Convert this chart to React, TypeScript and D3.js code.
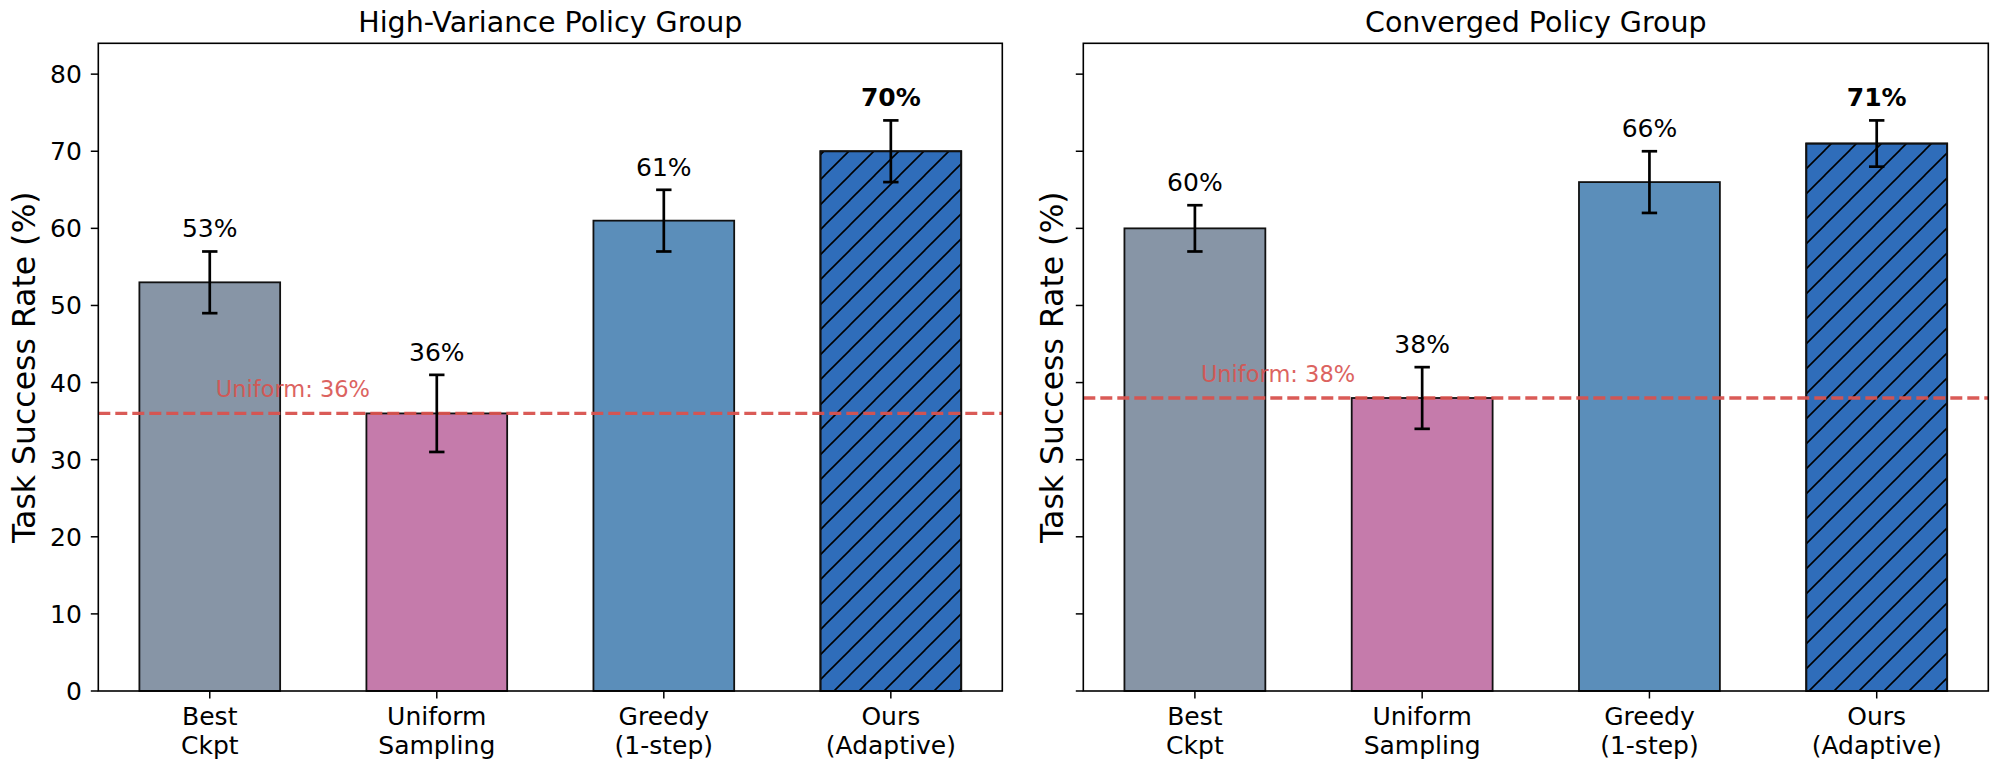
import { scaleLinear } from "d3";

// categories and values
const categories = [
  ["Best", "Ckpt"],
  ["Uniform", "Sampling"],
  ["Greedy", "(1-step)"],
  ["Ours", "(Adaptive)"],
];
const barColors = ["#8795a6", "#c57bab", "#5b8eba", "#2f6dba"];
const yTicks = [0, 10, 20, 30, 40, 50, 60, 70, 80];

const highVarValues = [53, 36, 61, 70];
const highVarErrors = [4, 5, 4, 4];
const convergedValues = [60, 38, 66, 71];
const convergedErrors = [3, 4, 4, 3];

const panelTitles = ["High-Variance Policy Group", "Converged Policy Group"];

const W = 2000;
const H = 770;
const top = 43.3;
const bottom = 691;
const panels = [
  { x0: 98.3, x1: 1002.3, labelOff: 63 },
  { x0: 1083.3, x1: 1988.3, labelOff: 20 },
];
const FONT = "DejaVu Sans, sans-serif";
const RED = "#d9534f";

const y = scaleLinear().domain([0, 84]).range([bottom, top]);

type PanelProps = {
  idx: number;
  values: number[];
  errors: number[];
  title: string;
  showLabels: boolean;
};

const Panel = ({ idx, values, errors, title, showLabels }: PanelProps) => {
  const { x0, x1, labelOff } = panels[idx];
  const x = scaleLinear().domain([-0.491, 3.491]).range([x0, x1]);
  const barW = x(0.62) - x(0);
  const baseline = values[1];
  const last = values.length - 1;

  return (
    <g>
      {/* bars */}
      {values.map((v, i) => (
        <g key={i}>
          <rect
            x={x(i) - barW / 2}
            y={y(v)}
            width={barW}
            height={y(0) - y(v)}
            fill={barColors[i]}
            stroke="#111"
            strokeWidth={1.8}
          />
          {i === last && (
            <rect
              x={x(i) - barW / 2}
              y={y(v)}
              width={barW}
              height={y(0) - y(v)}
              fill="url(#hatch)"
              stroke="#111"
              strokeWidth={1.8}
            />
          )}
        </g>
      ))}
      {/* uniform baseline */}
      <line
        x1={x0}
        x2={x1}
        y1={y(baseline)}
        y2={y(baseline)}
        stroke={RED}
        strokeWidth={3.3}
        strokeDasharray="12 5"
        opacity={0.95}
      />
      <text
        x={x(0) + 6}
        y={y(baseline) - 16}
        fontFamily={FONT}
        fontSize={22.5}
        fill={RED}
        opacity={0.9}
      >
        Uniform: {baseline}%
      </text>
      {/* error bars and value labels */}
      {values.map((v, i) => {
        const cx = x(i);
        const hi = y(v + errors[i]);
        const lo = y(v - errors[i]);
        return (
          <g key={i}>
            <line x1={cx} x2={cx} y1={hi} y2={lo} stroke="#000" strokeWidth={2.7} />
            <line x1={cx - 7.7} x2={cx + 7.7} y1={hi} y2={hi} stroke="#000" strokeWidth={2.7} />
            <line x1={cx - 7.7} x2={cx + 7.7} y1={lo} y2={lo} stroke="#000" strokeWidth={2.7} />
            <text
              x={cx}
              y={hi - 14}
              textAnchor="middle"
              fontFamily={FONT}
              fontSize={25}
              fontWeight={i === last ? "bold" : "normal"}
            >
              {v}%
            </text>
          </g>
        );
      })}
      {/* frame */}
      <rect x={x0} y={top} width={x1 - x0} height={bottom - top} fill="none" stroke="#000" strokeWidth={1.6} />
      {/* y ticks */}
      {yTicks.map((t) => (
        <g key={t}>
          <line x1={x0 - 7.5} x2={x0} y1={y(t)} y2={y(t)} stroke="#000" strokeWidth={1.5} />
          {showLabels && (
            <text
              x={x0 - 16.5}
              y={y(t)}
              dy="0.36em"
              textAnchor="end"
              fontFamily={FONT}
              fontSize={25}
            >
              {t}
            </text>
          )}
        </g>
      ))}
      {/* x ticks */}
      {categories.map((c, i) => (
        <g key={i}>
          <line x1={x(i)} x2={x(i)} y1={bottom} y2={bottom + 7.5} stroke="#000" strokeWidth={1.5} />
          {c.map((line, j) => (
            <text
              key={j}
              x={x(i)}
              y={725 + j * 29}
              textAnchor="middle"
              fontFamily={FONT}
              fontSize={25}
            >
              {line}
            </text>
          ))}
        </g>
      ))}
      <text
        x={(x0 + x1) / 2}
        y={32}
        textAnchor="middle"
        fontFamily={FONT}
        fontSize={28.5}
      >
        {title}
      </text>
      <text
        transform={`translate(${x0 - labelOff}, ${(top + bottom) / 2}) rotate(-90)`}
        textAnchor="middle"
        fontFamily={FONT}
        fontSize={31.5}
      >
        Task Success Rate (%)
      </text>
    </g>
  );
};

const App = () => {
  return (
    <svg
      width={W}
      height={H}
      style={{ position: "absolute", left: 0, top: 0, background: "#fff" }}
    >
      <defs>
        <pattern id="hatch" patternUnits="userSpaceOnUse" width={25} height={25}>
          <line x1={0} y1={25} x2={25} y2={0} stroke="#000" strokeWidth={1.6} />
          <line x1={-5} y1={5} x2={5} y2={-5} stroke="#000" strokeWidth={1.6} />
          <line x1={20} y1={30} x2={30} y2={20} stroke="#000" strokeWidth={1.6} />
        </pattern>
      </defs>
      <rect width={W} height={H} fill="#fff" />
      <Panel idx={0} values={highVarValues} errors={highVarErrors} title={panelTitles[0]} showLabels />
      <Panel idx={1} values={convergedValues} errors={convergedErrors} title={panelTitles[1]} showLabels={false} />
    </svg>
  );
};

export default App;
